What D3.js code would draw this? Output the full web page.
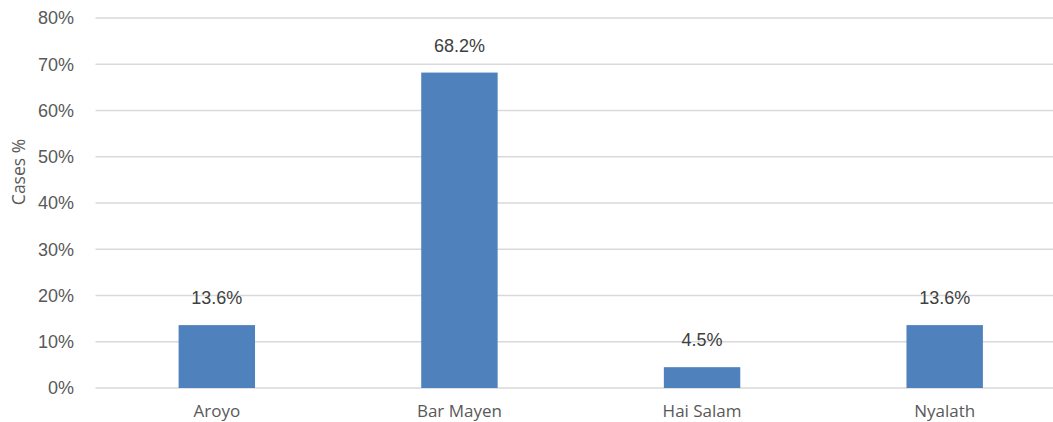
<!DOCTYPE html>
<html>
<head>
<meta charset="utf-8">
<script src="https://cdn.jsdelivr.net/npm/d3@7"></script>
<style>
  html, body { margin: 0; padding: 0; background: #fff; }
  svg { display: block; }
</style>
</head>
<body>
<svg id="chart" width="1053" height="422"></svg>
<script>
const categories = ["Aroyo", "Bar Mayen", "Hai Salam", "Nyalath"];
const values = [13.6, 68.2, 4.5, 13.6];
const valueLabels = ["13.6%", "68.2%", "4.5%", "13.6%"];
const yTicks = [0, 10, 20, 30, 40, 50, 60, 70, 80];
const yTitle = "Cases %";

const svg = d3.select("#chart");
const plotLeft = 95.5, plotRight = 1066, plotTop = 18, plotBottom = 388;

const x = d3.scaleBand().domain(categories).range([plotLeft, plotRight]).paddingInner(0.685).paddingOuter(0.3425);
const y = d3.scaleLinear().domain([0, 80]).range([plotBottom, plotTop]);

// gridlines
svg.append("g").selectAll("line").data(yTicks).join("line")
  .attr("x1", plotLeft).attr("x2", plotRight)
  .attr("y1", d => y(d)).attr("y2", d => y(d))
  .attr("stroke", "#d9d9d9").attr("stroke-width", 1.5);

// y axis labels
const yAxis = d3.axisLeft(y).tickValues(yTicks).tickFormat(d => d + "%").tickSize(0).tickPadding(0);
const gy = svg.append("g").attr("transform", "translate(74,0)").call(yAxis);
gy.select(".domain").remove();
gy.selectAll("text").attr("fill", "#595959").attr("font-size", "18px")
  .attr("font-family", "'Liberation Sans', Arial, sans-serif");

// bars
svg.append("g").selectAll("rect").data(values).join("rect")
  .attr("x", (d, i) => x(categories[i]))
  .attr("width", x.bandwidth())
  .attr("y", d => y(d))
  .attr("height", d => y(0) - y(d))
  .attr("fill", "#4f81bd");

// value labels
svg.append("g").selectAll("text").data(values).join("text")
  .attr("x", (d, i) => x(categories[i]) + x.bandwidth() / 2)
  .attr("y", d => y(d) - 21)
  .attr("text-anchor", "middle")
  .attr("fill", "#404040").attr("font-size", "18px")
  .attr("font-family", "'Liberation Sans', Arial, sans-serif")
  .text((d, i) => valueLabels[i]);

// x axis labels
const xAxis = d3.axisBottom(x).tickSize(0).tickPadding(0);
const gx = svg.append("g").attr("transform", `translate(0,${plotBottom + 17})`).call(xAxis);
gx.select(".domain").remove();
gx.selectAll("text").attr("fill", "#595959").attr("font-size", "17px")
  .attr("font-family", "'Open Sans', sans-serif");

// y title
svg.append("text")
  .attr("transform", "translate(25,172) rotate(-90)")
  .attr("text-anchor", "middle")
  .attr("fill", "#595959").attr("font-size", "17.5px")
  .attr("font-family", "'Open Sans', sans-serif")
  .text(yTitle);
</script>
</body>
</html>
